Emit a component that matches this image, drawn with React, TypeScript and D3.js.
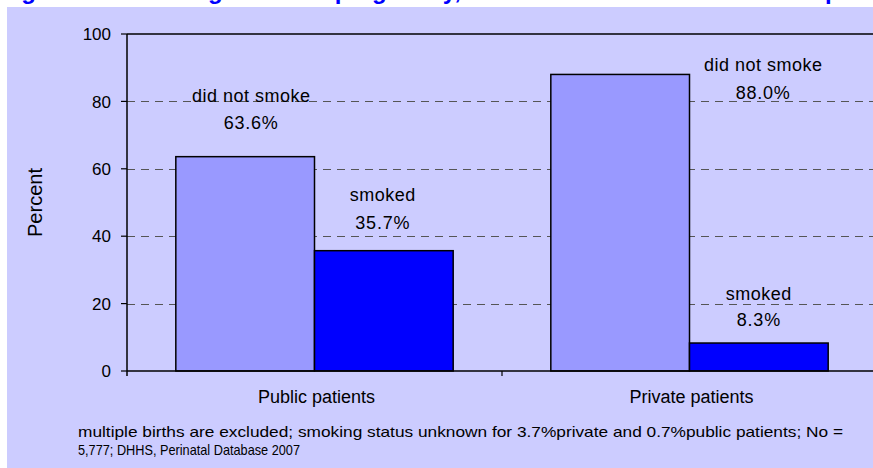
import React from "react";
import * as d3 from "d3";

const categories = ["Public patients", "Private patients"];
const seriesNames = ["did not smoke", "smoked"];
const didNotSmoke = [63.6, 88.0];
const smoked = [35.7, 8.3];
const yTicks = [0, 20, 40, 60, 80, 100];
const titleText =
  "Figure 10: Smoking status in pregnancy, mothers who were admitted as private and public patients";
const footnoteLines = [
  "multiple births are excluded;  smoking status unknown for 3.7%private and 0.7%public  patients;  No =",
  "5,777;  DHHS, Perinatal Database 2007",
];

const W = 873;
const H = 468;
const plot = { left: 127, right: 877, top: 34, bottom: 371 };
const colors = ["#9999FF", "#0000FF"];
const font = "'Liberation Sans', Arial, Helvetica, sans-serif";

// manual label placement (dx from bar centre, dy of value line from bar top, gap between lines)
const labelLayout = [
  [{ dx: 6, dy: -28, gap: 26.5 }, { dx: -1, dy: -22, gap: 27.3 }],
  [{ dx: 143, dy: 25, gap: 28.6 }, { dx: 0, dy: -17, gap: 26 }],
];

export default function App() {
  const values = [didNotSmoke, smoked];
  const x0 = d3.scaleBand<string>().domain(categories).range([plot.left, plot.right]).padding(0);
  const x1 = d3
    .scaleBand<string>()
    .domain(seriesNames)
    .range([0, x0.bandwidth()])
    .paddingInner(0)
    .paddingOuter(0.352);
  const y = d3.scaleLinear().domain([0, 100]).range([plot.bottom, plot.top]);

  const bars: any[] = [];
  categories.forEach((c, ci) => {
    seriesNames.forEach((s, si) => {
      bars.push({ c, ci, s, si, v: values[si][ci] });
    });
  });

  return (
    <svg
      width={W}
      height={H}
      style={{ position: "absolute", left: 0, top: 0, fontFamily: font }}
    >
      <rect x={0} y={0} width={W} height={H} fill="#ffffff" />
      <rect x={7} y={7} width={W - 7} height={H - 7} fill="#CCCCFF" />
      <text x={0} y={-1} fontSize={24} fontWeight="bold" fill="#0000FF">
        {titleText}
      </text>

      {/* gridlines */}
      {yTicks
        .filter((t) => t > 0 && t < 100)
        .map((t) => (
          <line
            key={"g" + t}
            x1={plot.left}
            x2={plot.right}
            y1={Math.round(y(t)) + 0.5}
            y2={Math.round(y(t)) + 0.5}
            stroke="#555"
            strokeWidth={1}
            strokeDasharray="8,6"
          />
        ))}
      <line
        x1={plot.left}
        x2={plot.right}
        y1={y(100)}
        y2={y(100)}
        stroke="#000"
        strokeWidth={1.5}
      />

      {/* bars */}
      {bars.map((b) => (
        <rect
          key={b.c + b.s}
          x={(x0(b.c) as number) + (x1(b.s) as number)}
          y={y(b.v)}
          width={x1.bandwidth()}
          height={y(0) - y(b.v)}
          fill={colors[b.si]}
          stroke="#000"
          strokeWidth={1.5}
        />
      ))}

      {/* axes */}
      <line x1={plot.left} x2={plot.left} y1={plot.top} y2={plot.bottom + 5} stroke="#000" strokeWidth={1.5} />
      <line x1={plot.left} x2={plot.right} y1={plot.bottom} y2={plot.bottom} stroke="#000" strokeWidth={1.5} />
      {yTicks.map((t) => (
        <g key={"t" + t}>
          <line x1={plot.left - 6} x2={plot.left} y1={y(t)} y2={y(t)} stroke="#000" strokeWidth={1.2} />
          <text x={111} y={y(t)} dy="0.36em" textAnchor="end" fontSize={17} fill="#000">
            {t}
          </text>
        </g>
      ))}
      {categories.map((c, i) =>
        i > 0 ? (
          <line
            key={"ct" + c}
            x1={x0(c) as number}
            x2={x0(c) as number}
            y1={plot.bottom}
            y2={plot.bottom + 5}
            stroke="#000"
            strokeWidth={1.2}
          />
        ) : null
      )}
      {categories.map((c) => (
        <text
          key={"cl" + c}
          x={(x0(c) as number) + x0.bandwidth() / 2 + 2}
          y={403}
          textAnchor="middle"
          fontSize={18}
          fill="#000"
        >
          {c}
        </text>
      ))}
      <text
        transform={`translate(42, ${(plot.top + plot.bottom) / 2}) rotate(-90)`}
        textAnchor="middle"
        fontSize={20}
        fill="#000"
      >
        Percent
      </text>

      {/* data labels */}
      {bars.map((b) => {
        const L = labelLayout[b.ci][b.si];
        const cx = (x0(b.c) as number) + (x1(b.s) as number) + x1.bandwidth() / 2 + L.dx;
        const vy = y(b.v) + L.dy;
        return (
          <g key={"l" + b.c + b.s} fontSize={18} fill="#000" textAnchor="middle">
            <text x={cx} y={vy - L.gap} letterSpacing={0.5}>
              {b.s}
            </text>
            <text x={cx} y={vy} letterSpacing={0.8}>
              {b.v.toFixed(1) + "%"}
            </text>
          </g>
        );
      })}

      {/* footnote */}
      {footnoteLines.map((t, i) => (
        <text
          key={"f" + i}
          x={78}
          y={437 + i * 18}
          fontSize={14.5}
          fill="#000"
          textLength={i === 0 ? 765 : 222}
          lengthAdjust="spacingAndGlyphs"
        >
          {t}
        </text>
      ))}
    </svg>
  );
}
